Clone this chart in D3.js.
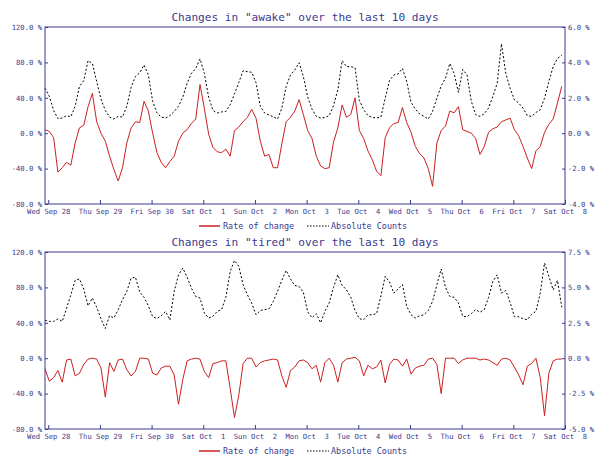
<!DOCTYPE html>
<html>
<head>
<meta charset="utf-8">
<script src="https://cdn.jsdelivr.net/npm/d3@7"></script>
<style>
  body { margin: 0; background: #fff; }
  text { white-space: pre; }
</style>
</head>
<body>
<div id="main"></div>
<script>
// ---------------- data (2-hourly samples, starting Sep 27 22:30) -----------------//

let startTime = new Date(2011, 8, 27, 22, 30);
let endTime = new Date(2011, 9, 8, 0, 0);

let awakeRate = [
  4, 2, -5, -44, -39, -33, -36, -11, 6, 9,
  30, 45, 13, 0, -9, -26, -41, -54, -39, -11,
  6, 13, 12, 36, 25, 0, -22, -33, -39, -32,
  -26, -9, 0, 4, 11, 16, 55, 28, -1, -16,
  -21, -22, -18, -26, 3, 7, 13, 18, 27, 17,
  -9, -26, -24, -39, -39, -12, 13, 18, 25, 38,
  21, 3, -6, -26, -37, -40, -39, -10, 6, 32,
  18, 21, 40, 3, -6, -20, -30, -43, -48, -5,
  6, 11, 12, 29, 12, 1, -15, -23, -28, -40,
  -60, -11, 3, 8, 25, 23, 30, 4, 2, 0,
  -6, -24, -15, 1, 5, 7, 13, 15, 17, 4,
  -3, -15, -28, -40, -20, -15, 1, 10, 16, 34,
  53
];

let awakeAbs = [
  2.55, 2.08, 1.29, 0.82, 0.86, 0.99, 0.93, 1.52, 2.64, 2.97,
  4.1, 3.94, 2.92, 1.93, 1.29, 0.91, 0.8, 0.95, 0.91, 1.52,
  2.6, 3.2, 3.42, 3.85, 3.29, 1.8, 1.14, 0.91, 0.86, 0.99,
  1.23, 1.52, 2.04, 2.82, 3.38, 3.66, 4.2, 3.38, 2.04, 1.29,
  1.14, 1.2, 1.23, 1.61, 2.22, 2.86, 3.53, 3.48, 3.44, 2.86,
  1.52, 1.14, 1.03, 0.93, 0.8, 1.42, 2.64, 3.29, 3.57, 3.98,
  3.2, 2.04, 1.36, 0.95, 0.86, 0.89, 0.99, 1.55, 2.45, 4.1,
  3.76, 3.76, 3.7, 1.85, 1.33, 0.99, 0.89, 0.86, 0.91, 1.98,
  2.97, 3.29, 3.35, 3.66, 2.92, 1.74, 1.36, 1.08, 0.95, 0.8,
  1.23, 1.98, 2.67, 3.1, 3.94, 3.38, 2.3, 3.6, 3.29, 1.8,
  1.05, 0.95, 1.1, 1.42, 2.08, 2.82, 5.05, 3.38, 2.54, 1.89,
  1.7, 1.42, 0.99, 0.95, 1.17, 1.33, 1.98, 2.92, 3.76, 4.22,
  4.41
];

let tiredRate = [
  -12, -26, -22, -14, -27, -2, -1, -20, -17, -7,
  -1, 0, -1, -11, -44, -5, -15, -2, -1, -13,
  -20, -15, 0, 0, -1, -17, -19, -11, -9, -9,
  -19, -52, -24, -3, -1, 0, -1, -15, -22, -6,
  -5, -3, -3, -34, -67, -42, -6, 0, 0, -10,
  -5, -3, -2, -1, -2, -20, -33, -14, -10, -3,
  -2, -5, -12, -8, -27, -5, 0, -8, -27, -5,
  -1, 0, 1, -3, -20, -8, -12, -10, -2, -28,
  -7, -1, -2, -9, -1, -18, -11, -9, -8, -1,
  0, -7, -40, 0, 0, 0, -6, -2, 0, 0,
  0, -2, -1, -2, -5, -8, -1, 0, -2, -10,
  -19, -30, -9, -6, 0, -22, -65, -17, -3, -1,
  -1
];

let tiredAbs = [
  2.68, 2.6, 2.6, 2.78, 2.6, 3.5, 4.48, 5.5, 5.6, 4.88,
  3.7, 4.25, 3.6, 2.78, 2.1, 3.0, 2.84, 3.43, 4.13, 4.72,
  5.66, 5.72, 4.67, 4.3, 3.7, 2.93, 2.8, 3.0, 3.3, 2.7,
  4.72, 5.89, 6.36, 5.72, 4.95, 4.36, 4.25, 3.19, 2.84, 2.96,
  3.31, 3.43, 4.3, 6.13, 6.9, 6.5, 5.19, 4.48, 3.89, 3.07,
  3.37, 3.43, 3.48, 4.01, 4.72, 5.5, 6.2, 5.6, 5.13, 5.07,
  4.65, 3.27, 2.86, 3.15, 2.5, 3.31, 3.92, 5.0, 5.89, 5.14,
  4.83, 4.3, 3.37, 2.79, 2.72, 3.05, 3.07, 3.15, 4.4, 5.78,
  5.38, 4.6, 4.88, 5.2, 3.66, 3.07, 2.84, 3.0, 3.07, 3.37,
  4.01, 5.19, 6.3, 5.0, 4.36, 4.3, 3.89, 2.96, 2.93, 3.15,
  3.43, 3.25, 3.43, 4.3, 5.42, 5.89, 4.6, 4.78, 3.95, 2.93,
  2.93, 2.78, 2.72, 3.1, 3.31, 4.6, 6.72, 5.78, 4.83, 5.5,
  3.6
];

let leftTicks = [120, 80, 40, 0, -40, -80];
let awakeRightTicks = [6, 4, 2, 0, -2, -4];
let tiredRightTicks = [7.5, 5, 2.5, 0, -2.5, -5];
let legendLabels = ["Rate of change", "Absolute Counts"];

let panels = [
  {word: "awake", rate: awakeRate, abs: awakeAbs, rightTicks: awakeRightTicks},
  {word: "tired", rate: tiredRate, abs: tiredAbs, rightTicks: tiredRightTicks}
];

// ---------------- global formatting vars -----------------//

let width = 595;
let height = 457;
let plotLeft = 45;
let plotRight = 565;
let plotTop = 27;
let plotHeight = 177;
let panelStep = 225;
let navy = "#3a3a8e";
let red = "#cc2020";
let mono = "'DejaVu Sans Mono', 'Liberation Mono', monospace";

let svg = d3.select("#main")
  .append("svg")
  .attr("width", width)
  .attr("height", height)
  .style("display", "block");

let timeScale = d3.scaleTime()
  .domain([startTime, endTime])
  .range([plotLeft, plotRight]);

let timeAxis = d3.axisBottom(timeScale)
  .ticks(d3.timeDay.every(1))
  .tickFormat(d3.timeFormat("%a %b %e"))
  .tickSize(-4)
  .tickPadding(5);

let pctFormat = d => d.toFixed(1) + " %";

panels.forEach(function(p, i) {
  let g = svg.append("g")
    .attr("transform", `translate(0, ${i * panelStep})`);
  drawPanel(g, p);
});

function drawPanel(g, p) {
  let plotBottom = plotTop + plotHeight;
  let rMax = p.rightTicks[0];
  let rMin = p.rightTicks[p.rightTicks.length - 1];

  let leftScale = d3.scaleLinear().domain([-80, 120]).range([plotBottom, plotTop]);
  let rightScale = d3.scaleLinear().domain([rMin, rMax]).range([plotBottom, plotTop]);

  // title
  g.append("text")
    .attr("x", (plotLeft + plotRight) / 2)
    .attr("y", 21)
    .attr("text-anchor", "middle")
    .attr("font-family", mono)
    .attr("font-size", 11.1)
    .attr("fill", navy)
    .text(`Changes in "${p.word}" over the last 10 days`);

  let times = p.rate.map((d, i) => d3.timeHour.offset(startTime, 2 * i));

  // lines
  let rateLine = d3.line()
    .x((d, i) => timeScale(times[i]))
    .y(d => leftScale(d));

  let absLine = d3.line()
    .x((d, i) => timeScale(times[i]))
    .y(d => rightScale(d));

  g.append("path")
    .datum(p.abs)
    .attr("d", absLine)
    .attr("fill", "none")
    .attr("stroke", "#000")
    .attr("stroke-width", 1)
    .attr("stroke-dasharray", "2,2");

  g.append("path")
    .datum(p.rate)
    .attr("d", rateLine)
    .attr("fill", "none")
    .attr("stroke", red)
    .attr("stroke-width", 1);

  // frame
  g.append("rect")
    .attr("x", plotLeft)
    .attr("y", plotTop)
    .attr("width", plotRight - plotLeft)
    .attr("height", plotHeight)
    .attr("fill", "none")
    .attr("stroke", navy)
    .attr("stroke-width", 1);

  // axes
  let leftAxis = d3.axisLeft(leftScale)
    .tickValues(leftTicks)
    .tickFormat(pctFormat)
    .tickSize(-3)
    .tickPadding(3);

  let rightAxis = d3.axisRight(rightScale)
    .tickValues(p.rightTicks)
    .tickFormat(pctFormat)
    .tickSize(-3)
    .tickPadding(3);

  let la = g.append("g")
    .attr("transform", `translate(${plotLeft}, 0)`)
    .call(leftAxis);
  let ra = g.append("g")
    .attr("transform", `translate(${plotRight}, 0)`)
    .call(rightAxis);
  let ba = g.append("g")
    .attr("transform", `translate(0, ${plotBottom})`)
    .call(timeAxis);

  [la, ra, ba].forEach(function(a) {
    a.select(".domain").remove();
    a.selectAll(".tick line").attr("stroke", navy);
    a.selectAll(".tick text")
      .attr("fill", navy)
      .attr("font-family", mono)
      .attr("font-size", 7.2);
  });

  // legend
  let legendY = 226;
  let legend = g.append("g").attr("font-family", mono).attr("font-size", 8.45).attr("fill", navy);

  legend.append("line")
    .attr("x1", 199).attr("x2", 220)
    .attr("y1", legendY).attr("y2", legendY)
    .attr("stroke", red).attr("stroke-width", 1.5);
  legend.append("text")
    .attr("x", 223).attr("y", legendY)
    .attr("dy", "0.35em")
    .text(legendLabels[0]);

  legend.append("line")
    .attr("x1", 307).attr("x2", 329)
    .attr("y1", legendY).attr("y2", legendY)
    .attr("stroke", "#000").attr("stroke-width", 1.2)
    .attr("stroke-dasharray", "1.5,1.5");
  legend.append("text")
    .attr("x", 331).attr("y", legendY)
    .attr("dy", "0.35em")
    .text(legendLabels[1]);
}
</script>
</body>
</html>
